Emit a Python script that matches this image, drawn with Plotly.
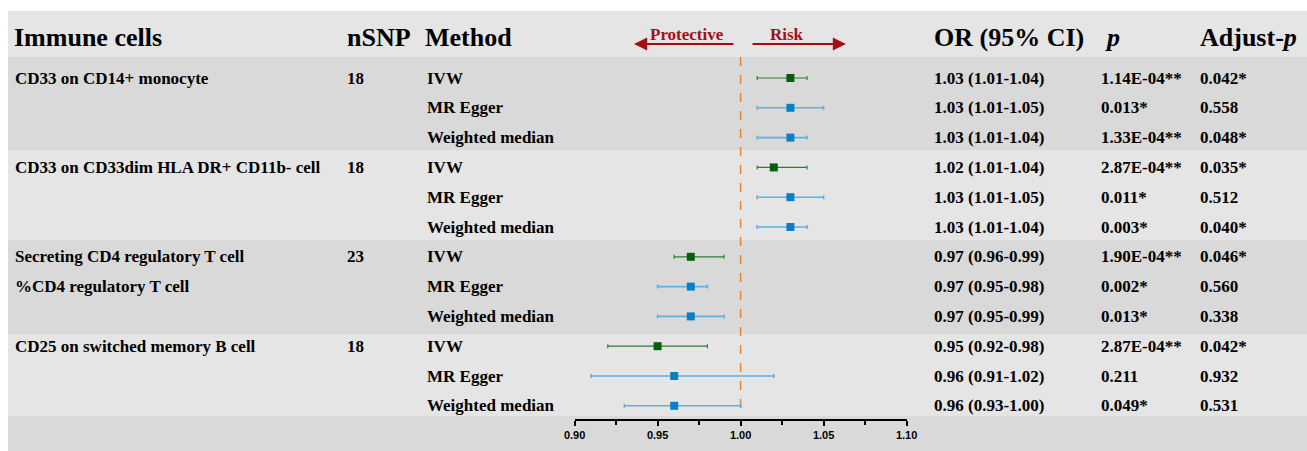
import plotly.graph_objects as go

W, H = 1307, 451

# ---------------- data ----------------
cells = ["CD33 on CD14+ monocyte", "CD33 on CD33dim HLA DR+ CD11b- cell",
         "Secreting CD4 regulatory T cell<br>%CD4 regulatory T cell", "CD25 on switched memory B cell"]
nsnp = ["18", "18", "23", "18"]
methods = ["IVW", "MR Egger", "Weighted median"]

or_val = [1.03, 1.03, 1.03, 1.02, 1.03, 1.03, 0.97, 0.97, 0.97, 0.95, 0.96, 0.96]
ci_lo = [1.01, 1.01, 1.01, 1.01, 1.01, 1.01, 0.96, 0.95, 0.95, 0.92, 0.91, 0.93]
ci_hi = [1.04, 1.05, 1.04, 1.04, 1.05, 1.04, 0.99, 0.98, 0.99, 0.98, 1.02, 1.00]
or_text = ["1.03 (1.01-1.04)", "1.03 (1.01-1.05)", "1.03 (1.01-1.04)",
           "1.02 (1.01-1.04)", "1.03 (1.01-1.05)", "1.03 (1.01-1.04)",
           "0.97 (0.96-0.99)", "0.97 (0.95-0.98)", "0.97 (0.95-0.99)",
           "0.95 (0.92-0.98)", "0.96 (0.91-1.02)", "0.96 (0.93-1.00)"]
p_text = ["1.14E-04**", "0.013*", "1.33E-04**",
          "2.87E-04**", "0.011*", "0.003*",
          "1.90E-04**", "0.002*", "0.013*",
          "2.87E-04**", "0.211", "0.049*"]
adj_text = ["0.042*", "0.558", "0.048*",
            "0.035*", "0.512", "0.040*",
            "0.046*", "0.560", "0.338",
            "0.042*", "0.932", "0.531"]
x_ticks = [0.90, 0.95, 1.00, 1.05, 1.10]
x_tick_labels = ["0.90", "0.95", "1.00", "1.05", "1.10"]
x_minor_ticks = [0.925, 0.975, 1.025, 1.075]

# ---------------- layout helpers ----------------
ROW0, STEP = 78.0, 29.8          # pixel of first row, row spacing
def idx(py):                     # pixel y -> row-index units
    return (py - ROW0) / STEP
def px(x):                       # pixel x -> paper
    return x / W

SERIF = "Liberation Serif"
DARKBAND = "#d9d9d9"
LIGHTBAND = "#e5e5e5"
RED = "#a30f12"

n = len(or_val)
rows = list(range(n))
meth_of = [methods[i % 3] for i in rows]

fig = go.Figure()

def add_series(mask, mcol, ecol, thick, name):
    ys = [i for i in rows if mask(i)]
    fig.add_trace(go.Scatter(
        x=[or_val[i] for i in ys], y=ys, mode="markers", name=name,
        marker=dict(symbol="square", size=8, color=mcol),
        error_x=dict(type="data", symmetric=False,
                     array=[ci_hi[i] - or_val[i] for i in ys],
                     arrayminus=[or_val[i] - ci_lo[i] for i in ys],
                     color=ecol, thickness=thick, width=2),
        showlegend=False, hoverinfo="skip", cliponaxis=False))

add_series(lambda i: meth_of[i] == "IVW", "#065e0a", "#2f7d32", 1.2, "IVW")
add_series(lambda i: meth_of[i] != "IVW", "#0a7fc6", "#5cb0e2", 1.6, "Other")

shapes = []
bands = [(11, 57, LIGHTBAND), (57, 150, DARKBAND), (150, 240, LIGHTBAND),
         (240, 334, DARKBAND), (334, 416, LIGHTBAND), (416, 451, DARKBAND)]
for y0, y1, c in bands:
    shapes.append(dict(type="rect", xref="paper", yref="y", x0=px(8), x1=1,
                       y0=idx(y0), y1=idx(y1), fillcolor=c, line_width=0, layer="below"))
shapes.append(dict(type="line", xref="x", yref="y", x0=1.0, x1=1.0,
                   y0=idx(57), y1=idx(416), line=dict(color="#e0873a", width=1.5, dash="dash"),
                   layer="below"))

ann = []
def txt(x, y, s, size=17, anchor="left", color="black"):
    ann.append(dict(x=px(x - (2 if anchor == "left" else 0)), y=y, xref="paper", yref="y",
                    text=s, showarrow=False, xanchor=anchor, yanchor="middle",
                    font=dict(family=SERIF, size=size, color=color, weight="bold")))

# headers
hy = idx(37)
txt(14, hy, "Immune cells", 26)
txt(347, hy, "nSNP", 26)
txt(425, hy, "Method", 26)
txt(934, hy, "OR (95% CI)", 26)
txt(1105, hy, "<i>p</i>", 26)
txt(1200, hy, "Adjust-<i>p</i>", 26)

# protective / risk arrows
ann.append(dict(x=px(634), y=idx(44), ax=735 - 634, ay=0, xref="paper", yref="y",
                axref="pixel", ayref="pixel", showarrow=True, arrowhead=2, arrowsize=1.2,
                arrowwidth=2.2, arrowcolor=RED, text=""))
ann.append(dict(x=px(846), y=idx(44), ax=751 - 846, ay=0, xref="paper", yref="y",
                axref="pixel", ayref="pixel", showarrow=True, arrowhead=2, arrowsize=1.2,
                arrowwidth=2.2, arrowcolor=RED, text=""))
txt(687, idx(34), "Protective", 17, "center", RED)
txt(787, idx(34), "Risk", 17, "center", RED)

# group labels and nSNP
cell_rows = [0, 3, 6, 9]
for g, r in enumerate(cell_rows):
    for k, ptxt in enumerate(cells[g].split("<br>")):
        txt(15, r + k, ptxt)
    txt(347, r, nsnp[g])

# per-row text
for i in rows:
    txt(427, i, meth_of[i])
    txt(934, i, or_text[i])
    txt(1101, i, p_text[i])
    txt(1200, i, adj_text[i])

fig.update_layout(
    width=W, height=H, margin=dict(l=0, r=0, t=0, b=0, autoexpand=False),
    paper_bgcolor="white", plot_bgcolor="rgba(0,0,0,0)",
    shapes=shapes, annotations=ann,
    xaxis=dict(domain=[px(574.6), px(906.6)], range=[0.90, 1.10],
               anchor="free", position=1 - 420 / H,
               tickvals=x_ticks, ticktext=x_tick_labels,
               showline=True, linecolor="black", linewidth=1.5,
               ticks="outside", ticklen=5, tickcolor="black", tickwidth=1.5,
               minor=dict(tickvals=x_minor_ticks, ticks="outside",
                          ticklen=4, tickcolor="black", tickwidth=1.5),
               tickfont=dict(family="Liberation Sans", size=11, color="black", weight="bold"),
               showgrid=False, zeroline=False, fixedrange=True),
    yaxis=dict(domain=[0, 1], range=[idx(H), idx(0)], visible=False,
               showgrid=False, zeroline=False, fixedrange=True),
)

fig.write_html("out.html", config={"displayModeBar": False},
               post_script="document.body.style.margin='0';document.body.style.overflow='hidden';")
